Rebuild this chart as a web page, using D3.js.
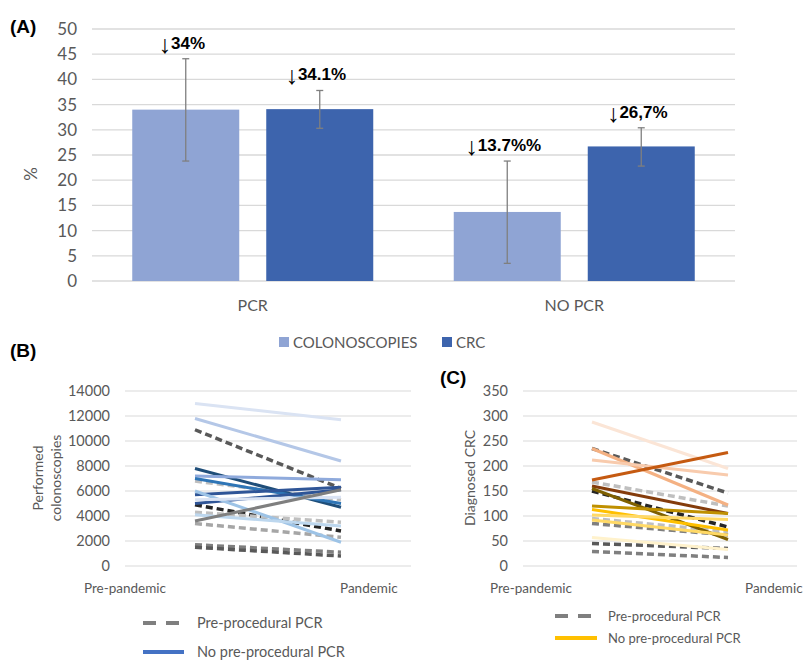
<!DOCTYPE html>
<html>
<head>
<meta charset="utf-8">
<script src="https://cdn.jsdelivr.net/npm/d3@7"></script>
<style>
  body { margin: 0; background: #fff; }
  svg { display: block; font-family: Lato, "Open Sans", sans-serif; }
</style>
</head>
<body>
<svg id="chart" width="803" height="660"></svg>
<script>
// ---- panel A data ----
const groups = ["PCR", "NO PCR"];
const series = ["COLONOSCOPIES", "CRC"];
const barValues = [[34, 34.1], [13.7, 26.7]];
const errLow = [[23.8, 30.3], [3.5, 22.8]];
const errHigh = [[44.1, 37.8], [23.8, 30.4]];
const barLabels = [["34%", "34.1%"], ["13.7%%", "26,7%"]];
const pctTicks = [0, 5, 10, 15, 20, 25, 30, 35, 40, 45, 50];

// ---- panels B and C data ----
const periods = ["Pre-pandemic", "Pandemic"];
const colonTicks = [0, 2000, 4000, 6000, 8000, 10000, 12000, 14000];
const colonPre = [10900, 6800, 4900, 4300, 3400, 1700, 1500,
                  13000, 11800, 7800, 7200, 7000, 5700, 5000, 6000, 4100, 5300, 3600];
const colonPan = [6200, 5300, 2800, 3500, 2300, 1100, 800,
                  11700, 8400, 4700, 6900, 5000, 6300, 6100, 1900, 3200, 5500, 6100];
const colonPCR = [true, true, true, true, true, true, true,
                  false, false, false, false, false, false, false, false, false, false, false];
const colonColors = ["#595959", "#bfbfbf", "#262626", "#bfbfbf", "#a6a6a6", "#7f7f7f", "#595959",
                     "#dae3f3", "#b4c7e7", "#1f4e79", "#8faadc", "#2e75b6", "#2f5597", "#2f5597", "#9dc3e6", "#bdd7ee", "#dae3f3", "#7f7f7f"];

const crcTicks = [0, 50, 100, 150, 200, 250, 300, 350];
const crcPre = [235, 168, 150, 95, 85, 45, 29,
                288, 235, 212, 172, 160, 155, 120, 113, 102, 92, 57];
const crcPan = [146, 120, 78, 69, 62, 35, 17,
                195, 122, 182, 227, 105, 53, 105, 72, 93, 62, 33];
const crcPCR = [true, true, true, true, true, true, true,
                false, false, false, false, false, false, false, false, false, false, false];
const crcColors = ["#595959", "#bfbfbf", "#262626", "#bfbfbf", "#7f7f7f", "#595959", "#7f7f7f",
                   "#fbe5d6", "#f4b183", "#f8cbad", "#c55a11", "#843c0c", "#7f6000", "#bf9000", "#ffc000", "#ffd966", "#ffd966", "#fff2cc"];

const svg = d3.select('#chart');
const grid = '#d9d9d9', tickCol = '#595959';

// ================= (A) bar chart =================
const yA = d3.scaleLinear().domain([0, 50]).range([281, 29]);
const x0 = d3.scaleBand().domain(groups).range([92, 735]);
const x1 = d3.scaleBand().domain(series).range([40.25, 281.25]).paddingInner(27 / 134);
const barColors = d3.scaleOrdinal().domain(series).range(["#8fa4d4", "#3d64ad"]);

const gA = svg.append('g');
gA.selectAll('.gridA').data(pctTicks).enter().append('line')
  .attr('x1', 92).attr('x2', 735)
  .attr('y1', d => yA(d)).attr('y2', d => yA(d))
  .attr('stroke', grid).attr('stroke-width', 1.3);
gA.selectAll('.tickA').data(pctTicks).enter().append('text')
  .attr('x', 77).attr('y', d => yA(d) + 6)
  .attr('text-anchor', 'end').attr('fill', tickCol).style('font-size', '17px')
  .text(d => d);

const barData = [];
groups.forEach((g, i) => series.forEach((s, j) => barData.push({
  g, s, v: barValues[i][j], lo: errLow[i][j], hi: errHigh[i][j], label: barLabels[i][j]
})));

gA.selectAll('.bar').data(barData).enter().append('rect')
  .attr('x', d => x0(d.g) + x1(d.s)).attr('width', x1.bandwidth())
  .attr('y', d => yA(d.v)).attr('height', d => yA(0) - yA(d.v))
  .attr('fill', d => barColors(d.s));

const cx = d => x0(d.g) + x1(d.s) + x1.bandwidth() / 2;
gA.selectAll('.err').data(barData).enter().append('line')
  .attr('x1', cx).attr('x2', cx)
  .attr('y1', d => yA(d.lo)).attr('y2', d => yA(d.hi))
  .attr('stroke', '#7f7f7f').attr('stroke-width', 1.3);
['lo', 'hi'].forEach(k => {
  gA.selectAll('.cap' + k).data(barData).enter().append('line')
    .attr('x1', d => cx(d) - 3.5).attr('x2', d => cx(d) + 3.5)
    .attr('y1', d => yA(d[k])).attr('y2', d => yA(d[k]))
    .attr('stroke', '#7f7f7f').attr('stroke-width', 1.3);
});
// labels: a tall thin down arrow then the bold value
const lab = gA.selectAll('.lab').data(barData).enter().append('text')
  .attr('x', d => cx(d) - 4).attr('y', d => yA(d.hi) - 10)
  .attr('text-anchor', 'middle')
  .style('font-family', 'Arial, "Liberation Sans", sans-serif')
  .style('font-weight', 'bold').style('font-size', '17px').attr('fill', '#000');
lab.append('tspan').style('font-size', '25px').style('font-weight', 'normal')
  .attr('fill', '#000').attr('dy', 4).text('↓');
lab.append('tspan').attr('dy', -4).text(d => d.label);

gA.selectAll('.catA').data(groups).enter().append('text')
  .attr('x', d => x0(d) + x0.bandwidth() / 2).attr('y', 311)
  .attr('text-anchor', 'middle').attr('fill', tickCol).style('font-size', '16px')
  .text(d => d);

gA.append('text').attr('transform', 'translate(37,174) rotate(-90)')
  .attr('text-anchor', 'middle').attr('fill', tickCol).style('font-size', '17px').text('%');

// legend A
const legA = gA.selectAll('.legA').data(series).enter().append('g')
  .attr('transform', (d, i) => `translate(${i === 0 ? 279 : 442},337)`);
legA.append('rect').attr('width', 10).attr('height', 10).attr('fill', d => barColors(d));
legA.append('text').attr('x', 14).attr('y', 11).attr('fill', tickCol)
  .style('font-size', '15px').text(d => d);

// panel letters
const letters = [["(A)", 10, 33], ["(B)", 10, 357], ["(C)", 440, 384]];
svg.selectAll('.letter').data(letters).enter().append('text')
  .attr('x', d => d[1]).attr('y', d => d[2])
  .style('font-family', 'Arial, "Liberation Sans", sans-serif')
  .style('font-weight', 'bold').style('font-size', '19px').text(d => d[0]);

// ================= (B) and (C) slope charts =================
function slopePanel(opt) {
  const g = svg.append('g');
  const y = d3.scaleLinear().domain(opt.domain).range([566, 391]);
  const x = d3.scalePoint().domain(periods).range(opt.lineRange);

  g.selectAll('.grid').data(opt.ticks).enter().append('line')
    .attr('x1', opt.gridRange[0]).attr('x2', opt.gridRange[1])
    .attr('y1', d => y(d)).attr('y2', d => y(d))
    .attr('stroke', grid).attr('stroke-width', 1.2);
  g.selectAll('.tick').data(opt.ticks).enter().append('text')
    .attr('x', opt.tickX).attr('y', d => y(d) + 5)
    .attr('text-anchor', 'end').attr('fill', tickCol).style('font-size', '14.5px')
    .text(d => d);

  // period labels (Excel places them off the line ends)
  g.selectAll('.per').data(periods).enter().append('text')
    .attr('x', (d, i) => opt.labelX[i]).attr('y', 593)
    .attr('text-anchor', (d, i) => i === 0 ? 'middle' : 'start')
    .attr('fill', tickCol).style('font-size', '13.5px').text(d => d);

  const rows = opt.pre.map((v, i) => ({
    pts: [[periods[0], v], [periods[1], opt.pan[i]]], pcr: opt.pcr[i], color: opt.colors[i]
  }));
  const line = d3.line().x(d => x(d[0])).y(d => y(d[1]));
  g.selectAll('.ln').data(rows).enter().append('path')
    .attr('d', d => line(d.pts)).attr('fill', 'none')
    .attr('stroke', d => d.color)
    .attr('stroke-width', d => d.pcr ? 3.5 : 3)
    .attr('stroke-dasharray', d => d.pcr ? '7,4' : null);

  g.append('g').attr('transform', `translate(${opt.titleX},478) rotate(-90)`)
    .selectAll('text').data(opt.title).enter().append('text')
    .attr('y', (d, i) => i * 18 - (opt.title.length - 1) * 18)
    .attr('text-anchor', 'middle').attr('fill', tickCol).style('font-size', '14px')
    .text(d => d);

  // legend
  const leg = g.selectAll('.leg').data(opt.legend).enter().append('g');
  leg.append('line')
    .attr('x1', opt.legX[0]).attr('x2', opt.legX[1])
    .attr('y1', d => d.y).attr('y2', d => d.y)
    .attr('stroke', d => d.color).attr('stroke-width', 4)
    .attr('stroke-dasharray', d => d.dash ? '13,10' : null);
  leg.append('text').attr('x', opt.legTextX).attr('y', d => d.y + 5)
    .attr('fill', tickCol).style('font-size', opt.legFont).text(d => d.text);
}

slopePanel({
  domain: [0, 14000], ticks: colonTicks, lineRange: [195, 341], gridRange: [125, 411],
  tickX: 110, labelX: [125, 340], pre: colonPre, pan: colonPan, pcr: colonPCR, colors: colonColors,
  title: ["Performed", "colonoscopies"], titleX: 61,
  legend: [{ text: "Pre-procedural PCR", color: "#7f7f7f", dash: true, y: 623 },
           { text: "No pre-procedural PCR", color: "#4472c4", dash: false, y: 652 }],
  legX: [143, 184], legTextX: 197, legFont: '14.5px'
});

slopePanel({
  domain: [0, 350], ticks: crcTicks, lineRange: [592, 728], gridRange: [523, 797],
  tickX: 508, labelX: [531, 745], pre: crcPre, pan: crcPan, pcr: crcPCR, colors: crcColors,
  title: ["Diagnosed CRC"], titleX: 475,
  legend: [{ text: "Pre-procedural PCR", color: "#7f7f7f", dash: true, y: 616 },
           { text: "No pre-procedural PCR", color: "#ffc000", dash: false, y: 638 }],
  legX: [555, 597], legTextX: 608, legFont: '13px'
});
</script>
</body>
</html>
